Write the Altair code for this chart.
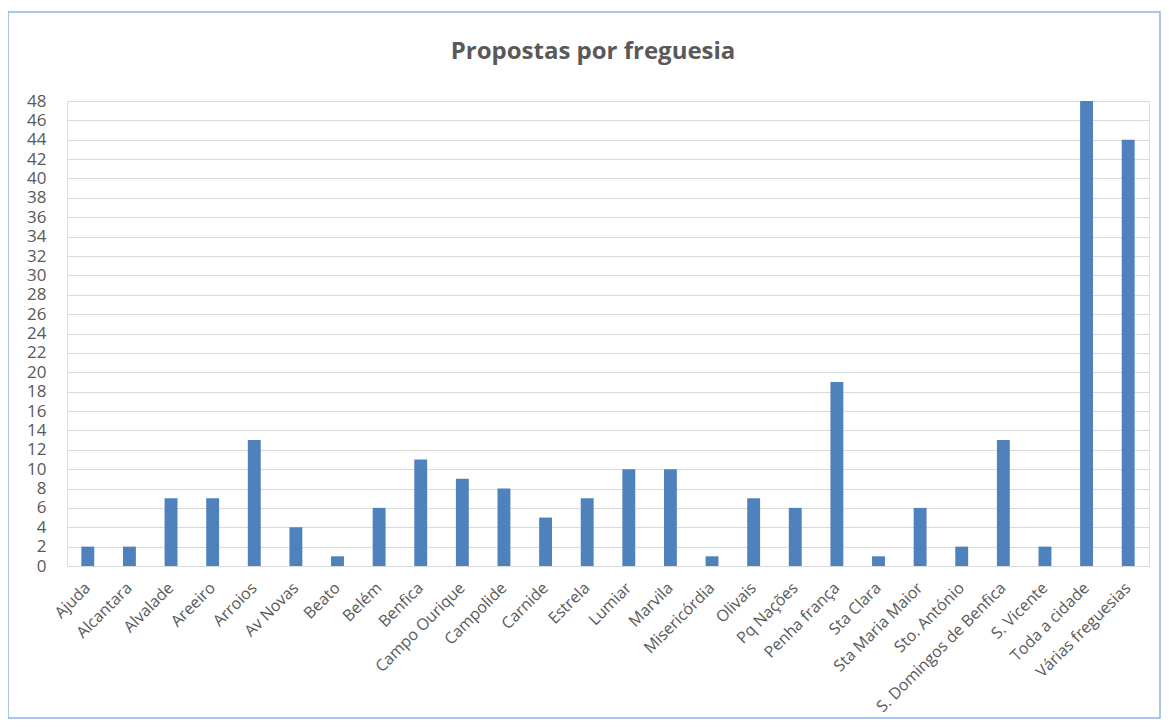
import altair as alt
import pandas as pd

freguesias = ["Ajuda", "Alcantara", "Alvalade", "Areeiro", "Arroios", "Av Novas", "Beato",
              "Belém", "Benfica", "Campo Ourique", "Campolide", "Carnide", "Estrela", "Lumiar",
              "Marvila", "Misericórdia", "Olivais", "Pq Nações", "Penha frança", "Sta Clara",
              "Sta Maria Maior", "Sto. António", "S. Domingos de Benfica", "S. Vicente",
              "Toda a cidade", "Várias freguesias"]
propostas = [2, 2, 7, 7, 13, 4, 1, 6, 11, 9, 8, 5, 7, 10, 10, 1, 7, 6, 19, 1, 6, 2, 13, 2, 48, 44]
y_ticks = list(range(0, 49, 2))
title_text = ["Propostas por freguesia"]

df = pd.DataFrame({"freguesia": freguesias, "propostas": propostas})

FONT = "Open Sans"
GRAY = "#595959"

bars = alt.Chart(df).mark_bar(color="#4F81BD").encode(
    x=alt.X("freguesia:N", sort=None, title=None,
            scale=alt.Scale(paddingInner=0.69, paddingOuter=0.345),
            axis=alt.Axis(labelAngle=-45, labelAlign="right", labelBaseline="middle",
                          labelPadding=19, ticks=False, domainColor="#D9D9D9",
                          labelFontSize=16, labelColor=GRAY, labelFont=FONT,
                          labelOverlap=False, labelLimit=400)),
    y=alt.Y("propostas:Q", title=None,
            scale=alt.Scale(domain=[0, 48], nice=False),
            axis=alt.Axis(values=y_ticks, ticks=False, domain=False, gridColor="#D9D9D9",
                          gridWidth=1.2, labelFontSize=17, labelColor=GRAY, labelFont=FONT,
                          labelPadding=21, labelOverlap=False)),
)

border = alt.Chart(pd.DataFrame({"a": [0]})).mark_rect(
    fill=None, stroke="#8DB3E2", strokeWidth=1.5
).encode(x=alt.value(-59), x2=alt.value(1093), y=alt.value(-89), y2=alt.value(617))

title = alt.Chart(pd.DataFrame({"t": title_text})).mark_text(
    font=FONT, fontSize=24, fontWeight="bold", color=GRAY, align="center", baseline="middle"
).encode(text="t:N", x=alt.value(526), y=alt.value(-49))

chart = alt.layer(bars, border, title).properties(
    width=1082, height=465,
    autosize=alt.AutoSizeParams(type="none"),
    padding={"left": 59, "top": 93, "right": 12, "bottom": 155},
).configure_view(stroke=None).configure(background="white")

chart.save("out.html", embed_options={"renderer": "svg", "actions": False})
